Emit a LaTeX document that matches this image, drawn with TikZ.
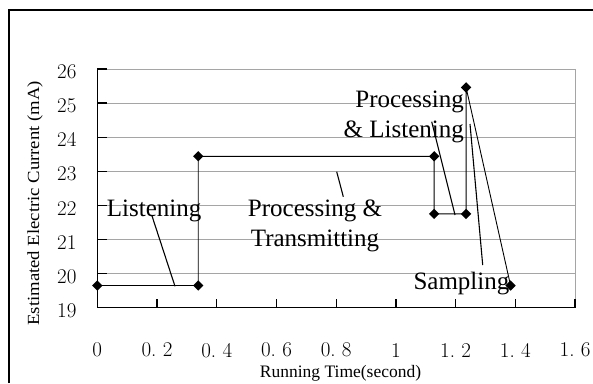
\documentclass[tikz,border=0pt]{standalone}
\usepackage{fontspec}
\newfontfamily\tnr{Liberation Serif}
\usetikzlibrary{shapes.geometric}
\definecolor{gridgray}{RGB}{165,165,165}
\frenchspacing
\tikzset{
  grid/.style={draw=gridgray, line width=1bp},
  axisline/.style={draw=black, line width=1.3bp},
  dataline/.style={draw=black, line width=0.9bp},
  leader/.style={draw=black, line width=1.1bp},
  dia/.style={diamond, fill=black, inner sep=0pt, minimum width=10.5bp, minimum height=10.5bp},
  ticklab/.style={font=\fontsize{21bp}{24bp}\selectfont, inner sep=0pt},
  lab/.style={font=\tnr\fontsize{25bp}{30bp}\selectfont, inner sep=0pt},
  axtitle/.style={font=\tnr\fontsize{17bp}{20bp}\selectfont, inner sep=0pt}
}
\begin{document}
\begin{tikzpicture}[x=1bp, y=-1bp]
\useasboundingbox (0,0) rectangle (593,383);
\fill[white] (0,0) rectangle (593,383);
% outer frame (cut off at right and bottom)
\coordinate (f1) at (9,383);
\coordinate (f2) at (9,10);
\coordinate (f3) at (593,10);
\draw[line width=1.4bp] (f1) -- (f2) -- (f3);

% y tick labels (page coordinates)
\foreach \v/\l in {0/19,1/20,2/21,3/22,4/23,5/24,6/25,7/26}{
  \pgfmathsetmacro{\yy}{307.7-34.1*\v+2.7}
  \node[ticklab, anchor=east] (yl\l) at (76.7,\yy) {\l};
}

\begin{scope}[shift={(97.3,307.7)}, x=298.6bp, y=34.1bp]
  % grid
  \foreach \v in {1,...,6} \draw[grid] (0,\v) -- (1.6,\v);
  \draw[grid] (0,7) -- (1.6,7) -- (1.6,0);
  % axes
  \draw[axisline] (0,7) -- (0,0) -- (1.6,0);
  \foreach \v in {1,...,7} \draw[axisline] (0,\v) -- ++(10bp,0bp);
  \foreach \t in {0.2,0.4,...,1.6} \draw[axisline] (\t,0) -- ++(0bp,8.7bp);
  % x tick labels
  \foreach \t/\l/\n in {0/0/a,0.2/0. 2/b,0.4/0. 4/c,0.6/0. 6/d,0.8/0. 8/e,1/1/f,1.2/1. 2/g,1.4/1. 4/h,1.6/1. 6/i}
    \node[ticklab, yshift=-42.5bp] (xl\n) at (\t,0) {\l};
  % data points
  \node[dia] (p1) at (0,0.65) {};
  \node[dia] (p2) at (0.338,0.65) {};
  \node[dia] (p3) at (0.338,4.44) {};
  \node[dia] (p4) at (1.128,4.44) {};
  \node[dia] (p5) at (1.128,2.75) {};
  \node[dia] (p6) at (1.235,2.75) {};
  \node[dia] (p7) at (1.235,6.46) {};
  \node[dia] (p8) at (1.384,0.65) {};
  \draw[dataline] (p1.center) -- (p2.center) -- (p3.center) -- (p4.center) -- (p5.center)
    -- (p6.center) -- (p7.center) -- (p8.center);
\end{scope}

% labels (base anchor of a two-line node = baseline of its last line)
\node[lab, anchor=base west] (lListen) at (106.7,216.8) {Listening};
\node[lab, anchor=base, align=center] (lPT) at (315,246.7) {Processing \&\\Transmitting};
\node[lab, anchor=base east, align=right] (lPL) at (464,137.5) {Processing\\\& Listening};
\node[lab, anchor=base west] (lSamp) at (413.3,289.3) {Sampling};

% leader lines
\coordinate (a1) at (151.7,215);   \coordinate (a2) at (175,286.3);
\coordinate (b1) at (336.7,171.7); \coordinate (b2) at (343.3,196.7);
\coordinate (c1) at (431.7,121.7); \coordinate (c2) at (455,215);
\coordinate (d1) at (470,124);     \coordinate (d2) at (482.7,265);
\draw[leader] (a1) -- (a2);
\draw[leader] (b1) -- (b2);
\draw[leader] (c1) -- (c2);
\draw[leader] (d1) -- (d2);

% axis titles
\node[axtitle, rotate=90, xscale=1.1] (ytitle) at (35,203.3) {Estimated Electric Current (mA)};
\node[axtitle, font=\tnr\fontsize{17.5bp}{20bp}\selectfont] (xtitle) at (340.5,373) {Running Time(second)};
\end{tikzpicture}
\end{document}
